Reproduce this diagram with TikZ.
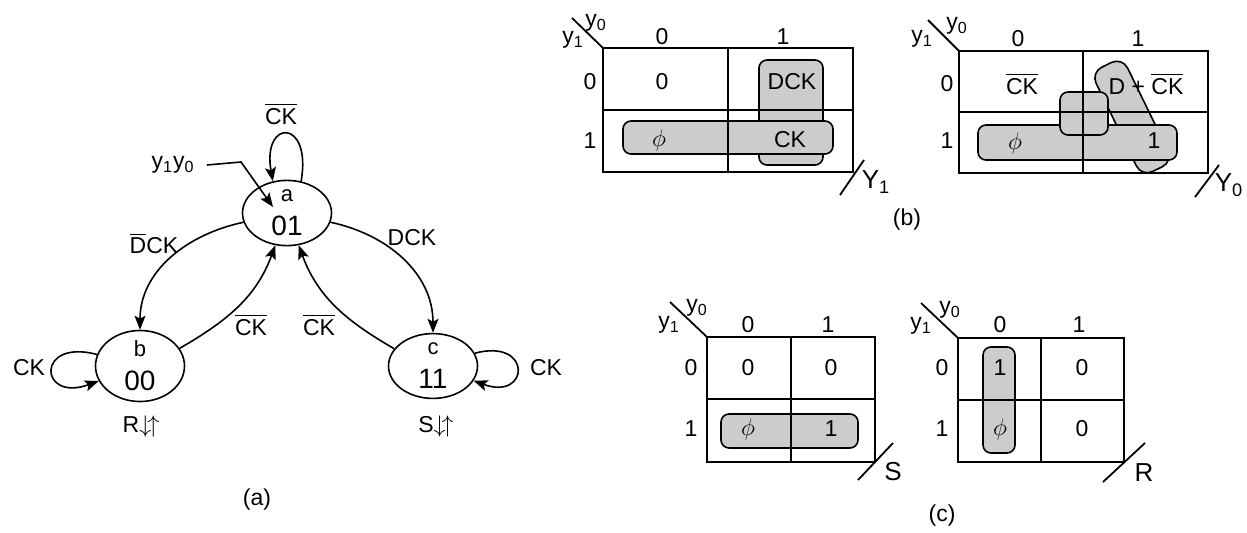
\documentclass[tikz,border=0pt]{standalone}
\usepackage{fontspec}
\setmainfont{Liberation Sans}
\usepackage{amsmath}
\usetikzlibrary{arrows.meta,shapes.geometric}

\newcommand{\ovl}[1]{$\overline{\mbox{#1}}$}
\newcommand{\stxt}[2]{{\fontsize{11}{17}\selectfont #1}\\#2}

\begin{document}
\begin{tikzpicture}[
  x=0.5pt, y=0.5pt,
  font=\fontsize{11.5}{13}\selectfont,
  >={Stealth[length=7pt,width=5.5pt,inset=1.5pt]},
  state/.style={draw, ellipse, line width=0.8pt, minimum width=44.5pt,
                minimum height=30.5pt, inner sep=0pt, align=center,
                font=\fontsize{14}{17}\selectfont},
  arr/.style={->, line width=0.8pt},
  lbl/.style={inner sep=1pt},
  kline/.style={line width=0.9pt},
  grp/.style={draw, fill=black!20, rounded corners=4pt, line width=0.8pt},
  big/.style={font=\fontsize{13}{15}\selectfont},
  subcap/.style={font=\fontsize{11.5}{13}\selectfont}
]
\useasboundingbox (0,0) rectangle (1247,532);

% ---------- (a) state diagram ----------
\node[state] (sa) at (287,319) {\stxt{a}{01}};
\node[state] (sb) at (140,166) {\stxt{b}{00}};
\node[state] (sc) at (433,166) {\stxt{c}{11}};

\node[lbl] (init) at (173,367) {y\textsubscript{1}y\textsubscript{0}};
\coordinate (ibend) at (241,370);
\coordinate (itip) at (273,325);
\draw[arr] ([xshift=5pt]init.east) -- (ibend) -- (itip);

\draw[arr] (sa.66) .. controls +(80:64) and +(100:64) .. (sa.114);
\node[lbl] (ltop) at (281,418) {\ovl{CK}};

\draw[arr] (sa.192) to[out=192,in=90] (sb.north);
\node[lbl] (lab) at (154,289) {\ovl{D}CK};
\draw[arr] (sb.24) to[out=30,in=250] (sa.250);
\node[lbl] (lba) at (251,207) {\ovl{CK}};
\draw[arr] (sc.156) to[out=150,in=290] (sa.290);
\node[lbl] (lca) at (319,207) {\ovl{CK}};
\draw[arr] (sa.348) to[out=-12,in=90] (sc.north);
\node[lbl] (lac) at (412,294) {DCK};

\draw[arr] (sb.165) .. controls +(165:64) and +(200:64) .. (sb.200);
\node[lbl] (lbb) at (29,164) {CK};
\draw[arr] (sc.17) .. controls +(15:60) and +(-20:60) .. (sc.340);
\node[lbl] (lcc) at (546,164) {CK};

\node[lbl] (outb) at (141,106) {R$\downarrow\!\uparrow$};
\node[lbl] (outc) at (436,106) {S$\downarrow\!\uparrow$};
\node[subcap] (capa) at (257,32) {(a)};

% ---------- (b) maps for Y1 and Y0 ----------
% Y1
\draw[grp] (759,472) rectangle (823,367);
\draw[grp] (623,411) rectangle (833,378);
\draw[kline] (603,484) rectangle (853,360);
\draw[kline] (728,484) -- (728,360);
\draw[kline] (603,422) -- (853,422);
\draw[kline] (603,484) -- (572,514);
\draw[kline] (840,337) -- (864,372);
\node (ya0) at (596,509) {y\textsubscript{0}};
\node (ya1) at (573,492) {y\textsubscript{1}};
\node (yac0) at (662,495) {0};
\node (yac1) at (783,495) {1};
\node (yar0) at (590,450) {0};
\node (yar1) at (590,391) {1};
\node (ya00) at (662,450) {0};
\node (ya01) at (792,450) {DCK};
\node (ya10) at (659,392) {$\phi$};
\node (ya11) at (790,392) {CK};
\node[big] (yaout) at (876,350) {Y\textsubscript{1}};

% Y0
\node[grp, rotate=-64, minimum width=58pt, minimum height=17.5pt,
      rounded corners=6pt] (tilt) at (1132,415) {};
\draw[grp] (978,407) rectangle (1177,372);
\draw[grp] (1060,440) rectangle (1108,397);
\draw[kline] (959,481) rectangle (1208,359);
\draw[kline] (1083,481) -- (1083,359);
\draw[kline] (959,420) -- (1208,420);
\draw[kline] (959,481) -- (928,512);
\draw[kline] (1195,335) -- (1219,367);
\node (yb0) at (957,506) {y\textsubscript{0}};
\node (yb1) at (922,493) {y\textsubscript{1}};
\node (ybc0) at (1018,493) {0};
\node (ybc1) at (1138,493) {1};
\node (ybr0) at (947,448) {0};
\node (ybr1) at (947,391) {1};
\node (yb00) at (1022,448) {\ovl{CK}};
\node (yb01) at (1146,448) {D + \ovl{CK}};
\node (yb10) at (1015,389) {$\phi$};
\node (yb11) at (1154,391) {1};
\node[big] (ybout) at (1229,347) {Y\textsubscript{0}};
\node[subcap] (capb) at (907,312) {(b)};

% ---------- (c) maps for S and R ----------
% S
\draw[grp] (721,118) rectangle (858,84);
\draw[kline] (707,195) rectangle (875,70);
\draw[kline] (791,195) -- (791,70);
\draw[kline] (707,133) -- (875,133);
\draw[kline] (707,195) -- (670,230);
\draw[kline] (858,52) -- (893,89);
\node (sm0) at (697,224) {y\textsubscript{0}};
\node (sm1) at (669,207) {y\textsubscript{1}};
\node (smc0) at (748,207) {0};
\node (smc1) at (828,207) {1};
\node (smr0) at (691,164) {0};
\node (smr1) at (691,103) {1};
\node (sm00) at (748,164) {0};
\node (sm01) at (831,164) {0};
\node (sm10) at (748,103) {$\phi$};
\node (sm11) at (831,103) {1};
\node[big] (smout) at (893,60) {S};

% R
\draw[grp] (983,185) rectangle (1015,79);
\draw[kline] (958,194) rectangle (1124,70);
\draw[kline] (1041,194) -- (1041,70);
\draw[kline] (958,132) -- (1124,132);
\draw[kline] (958,194) -- (921,229);
\draw[kline] (1103,50) -- (1145,89);
\node (rm0) at (950,222) {y\textsubscript{0}};
\node (rm1) at (921,206) {y\textsubscript{1}};
\node (rmc0) at (1000,207) {0};
\node (rmc1) at (1079,207) {1};
\node (rmr0) at (942,164) {0};
\node (rmr1) at (942,103) {1};
\node (rm00) at (1000,164) {1};
\node (rm01) at (1082,164) {0};
\node (rm10) at (1000,103) {$\phi$};
\node (rm11) at (1082,103) {0};
\node[big] (rmout) at (1144,59) {R};
\node[subcap] (capc) at (942,16) {(c)};

\end{tikzpicture}
\end{document}
